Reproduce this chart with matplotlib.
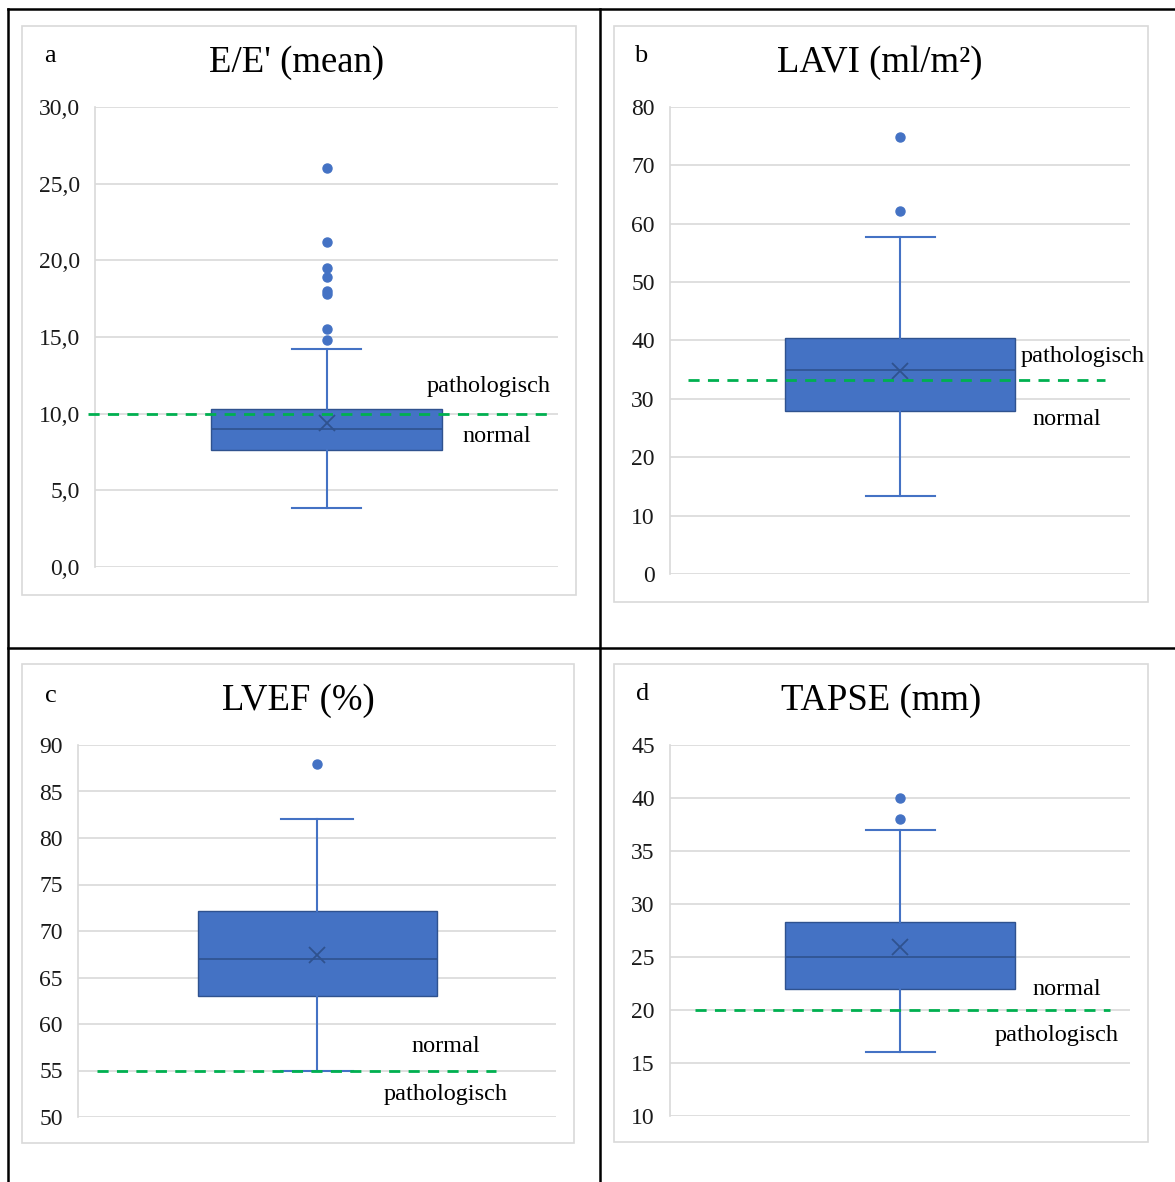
import matplotlib
matplotlib.use('Agg')
import matplotlib.pyplot as plt
from matplotlib.lines import Line2D
from matplotlib.patches import Rectangle

plt.rcParams['font.family'] = ['Liberation Serif', 'DejaVu Serif']

# box plot values: [whisker low, q1, median, q3, whisker high]
ee_box = [3.85, 7.6, 9.0, 10.3, 14.2]
ee_mean = 9.4
ee_fliers = [26.0, 21.2, 19.5, 18.9, 18.0, 17.8, 15.5, 14.8]

lavi_box = [13.4, 27.9, 35.0, 40.4, 57.8]
lavi_mean = 34.8
lavi_fliers = [74.9, 62.2]

lvef_box = [55.0, 63.0, 67.0, 72.1, 82.0]
lvef_mean = 67.4
lvef_fliers = [88.0]

tapse_box = [16.0, 22.0, 25.0, 28.3, 37.0]
tapse_mean = 25.9
tapse_fliers = [40.0, 38.0]

# cut-off values (green dashed)
ee_cut = 10.0
lavi_cut = 33.3
lvef_cut = 55.0
tapse_cut = 20.0

W, H = 1175, 1182
fig = plt.figure(figsize=(W / 100, H / 100), dpi=100)
fig.patch.set_facecolor('white')

BLUE = '#4472C4'
DARK = '#2F528F'
GREEN = '#00B050'
GRID = '#D9D9D9'


def frac_rect(x0, y0, x1, y1):
    return [x0 / W, 1 - y1 / H, (x1 - x0) / W, (y1 - y0) / H]


# table borders
for xs, ys in [((8, 8), (9, H)), ((8, W), (9, 9)), ((600, 600), (9, H)), ((8, W), (648, 648))]:
    fig.add_artist(Line2D([x / W for x in xs], [1 - y / H for y in ys],
                          color='black', lw=1.8, transform=fig.transFigure))

panels = [
    dict(letter='a', title="E/E' (mean)", box=ee_box, mean=ee_mean, fliers=ee_fliers, cut=ee_cut,
         ylim=(0, 30), step=5, fmt='{:.1f}', ax=(95, 107, 558, 567), frame=(22, 26, 576, 595),
         letter_xy=(50, 56), title_xy=(297, 63), cut_x=(0.485, 1.483),
         labels=[('pathologisch', 0.851, 11.8), ('normal', 0.868, 8.5)]),
    dict(letter='b', title='LAVI (ml/m²)', box=lavi_box, mean=lavi_mean, fliers=lavi_fliers, cut=lavi_cut,
         ylim=(0, 80), step=10, fmt='{:.0f}', ax=(670, 107, 1130, 574), frame=(614, 26, 1148, 602),
         letter_xy=(641, 56), title_xy=(880, 63), cut_x=(0.539, 1.446),
         labels=[('pathologisch', 0.896, 37.2), ('normal', 0.863, 26.5)]),
    dict(letter='c', title='LVEF (%)', box=lvef_box, mean=lvef_mean, fliers=lvef_fliers, cut=lvef_cut,
         ylim=(50, 90), step=5, fmt='{:.0f}', ax=(78, 745, 556, 1117), frame=(22, 664, 574, 1143),
         letter_xy=(51, 696), title_xy=(298, 701), cut_x=(0.540, 1.374),
         labels=[('normal', 0.770, 57.6), ('pathologisch', 0.770, 52.4)]),
    dict(letter='d', title='TAPSE (mm)', box=tapse_box, mean=tapse_mean, fliers=tapse_fliers, cut=tapse_cut,
         ylim=(10, 45), step=5, fmt='{:.0f}', ax=(670, 745, 1130, 1116), frame=(614, 664, 1148, 1142),
         letter_xy=(643, 694), title_xy=(881, 701), cut_x=(0.554, 1.457),
         labels=[('normal', 0.863, 21.9), ('pathologisch', 0.841, 17.6)]),
]

for p in panels:
    # chart frame
    fx0, fy0, fx1, fy1 = p['frame']
    fig.add_artist(Rectangle((fx0 / W, 1 - fy1 / H), (fx1 - fx0) / W, (fy1 - fy0) / H,
                             transform=fig.transFigure, fill=False, edgecolor=GRID, lw=1.2))
    fig.text(p['letter_xy'][0] / W, 1 - p['letter_xy'][1] / H, p['letter'],
             ha='center', va='center', fontsize=19)
    fig.text(p['title_xy'][0] / W, 1 - p['title_xy'][1] / H, p['title'],
             ha='center', va='center', fontsize=26.5)

    ax = fig.add_axes(frac_rect(*p['ax']))
    lo, q1, med, q3, hi = p['box']
    stats = [dict(whislo=lo, q1=q1, med=med, q3=q3, whishi=hi, mean=p['mean'], fliers=p['fliers'])]
    ax.bxp(stats, positions=[1], widths=0.5, patch_artist=True, showmeans=True,
           capwidths=0.15,
           boxprops=dict(facecolor=BLUE, edgecolor=DARK, lw=1),
           medianprops=dict(color=DARK, lw=1.2),
           whiskerprops=dict(color=BLUE, lw=1.5),
           capprops=dict(color=BLUE, lw=1.5),
           meanprops=dict(marker='x', markeredgecolor=DARK, markersize=12, markeredgewidth=1.3),
           flierprops=dict(marker='o', markerfacecolor=BLUE, markeredgecolor=BLUE, markersize=6.5))

    ax.plot(p['cut_x'], [p['cut'], p['cut']], color=GREEN, ls=(0, (4, 3)), lw=2,
            clip_on=False, zorder=5)

    for txt, xa, yv in p['labels']:
        ax.text(xa, yv, txt, transform=ax.get_yaxis_transform(), ha='center', va='center',
                fontsize=17.5)

    ax.set_xlim(0.5, 1.5)
    ax.set_ylim(*p['ylim'])
    ticks = list(range(p['ylim'][0], p['ylim'][1] + 1, p['step']))
    ax.set_yticks(ticks)
    ax.set_yticklabels([p['fmt'].format(t).replace('.', ',') for t in ticks])
    ax.set_xticks([])
    ax.tick_params(axis='y', length=0, pad=11, labelsize=17, labelcolor='#1a1a1a')
    ax.yaxis.grid(True, color=GRID, lw=1.2)
    ax.set_axisbelow(True)
    for side in ['top', 'right', 'bottom']:
        ax.spines[side].set_visible(False)
    ax.spines['left'].set_color(GRID)
    ax.spines['left'].set_linewidth(1.2)

fig.savefig('out.png', dpi=100)
